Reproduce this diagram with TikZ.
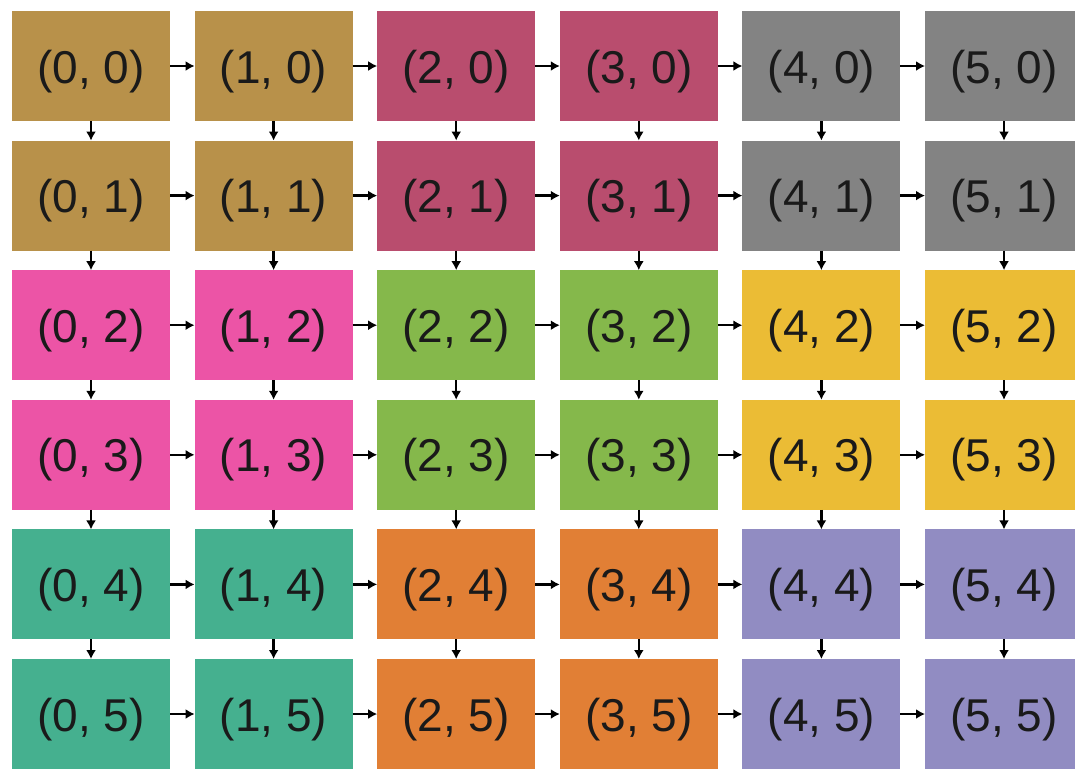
\documentclass[tikz,border=0pt]{standalone}
\usepackage{fontspec}
\setmainfont{Liberation Sans}
\usetikzlibrary{arrows.meta}
\definecolor{cbrown}{HTML}{B8914A}
\definecolor{cmag}{HTML}{B94D6E}
\definecolor{cgray}{HTML}{838383}
\definecolor{cpink}{HTML}{EC54A6}
\definecolor{cgreen}{HTML}{85B84B}
\definecolor{cyellow}{HTML}{EBBC35}
\definecolor{cteal}{HTML}{45B08F}
\definecolor{corange}{HTML}{E17F35}
\definecolor{cpurple}{HTML}{918CC2}
\definecolor{ctext}{HTML}{1A1A1A}
\tikzset{
  cell/.style={minimum width=158pt, minimum height=110pt, inner sep=0pt, outer sep=0pt,
    text height=34pt, text depth=0pt, font=\fontsize{46}{50}\selectfont, text=ctext},
  conn/.style={line width=2.3pt, -{Latex[length=9pt,width=10pt]}, draw=black}
}
\begin{document}
\begin{tikzpicture}[x=1pt,y=1pt]
\useasboundingbox (0,0) rectangle (1075,-769);
\clip (0,0) rectangle (1075,-769);
\fill[white] (0,0) rectangle (1075,-769);
\foreach \i in {0,...,5}{
  \foreach \j in {0,...,5}{
    \pgfmathtruncatemacro{\bx}{int(\i/2)}
    \pgfmathtruncatemacro{\by}{int(\j/2)}
    \pgfmathtruncatemacro{\k}{\by*3+\bx}
    \ifcase\k
      \def\cc{cbrown}\or\def\cc{cmag}\or\def\cc{cgray}\or
      \def\cc{cpink}\or\def\cc{cgreen}\or\def\cc{cyellow}\or
      \def\cc{cteal}\or\def\cc{corange}\or\def\cc{cpurple}\fi
    \node[cell, fill=\cc] (n-\i-\j) at ({91+182.6*\i},{-66-129.6*\j}) {(\i, \j)};
  }
}
\foreach \i in {0,...,4}{
  \foreach \j in {0,...,5}{
    \pgfmathtruncatemacro{\ni}{\i+1}
    \draw[conn] (n-\i-\j.east) -- (n-\ni-\j.west);
  }
}
\foreach \i in {0,...,5}{
  \foreach \j in {0,...,4}{
    \pgfmathtruncatemacro{\nj}{\j+1}
    \draw[conn] (n-\i-\j.south) -- (n-\i-\nj.north);
  }
}
\end{tikzpicture}
\end{document}
